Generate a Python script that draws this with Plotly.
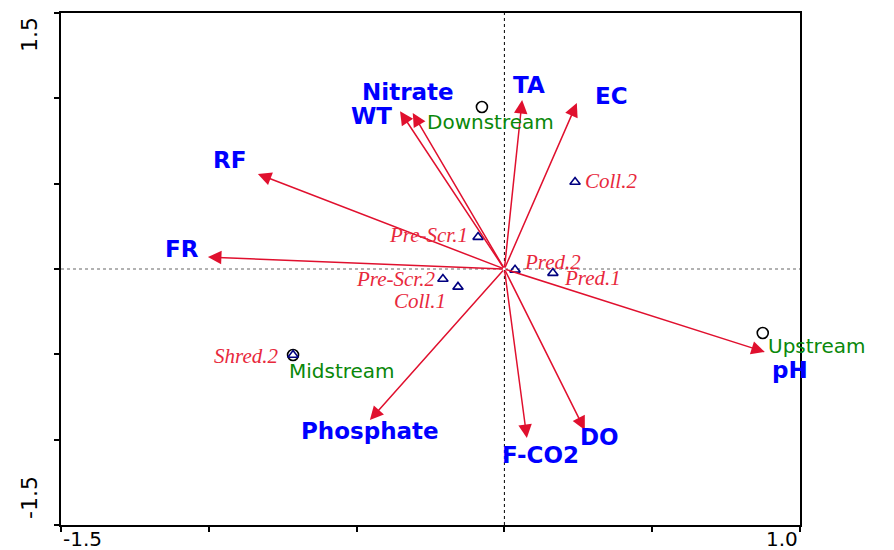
import plotly.graph_objects as go

# Environmental variables (biplot arrows from the origin)
env_names = ["RF", "FR", "WT", "Nitrate", "TA", "EC", "pH", "DO", "F-CO2", "Phosphate"]
env_x = [-0.834, -1.003, -0.353, -0.310, 0.060, 0.245, 0.881, 0.272, 0.076, -0.455]
env_y = [0.557, 0.070, 0.924, 0.914, 0.990, 0.972, -0.486, -0.943, -0.990, -0.885]

# Sampling sites
site_names = ["Downstream", "Midstream", "Upstream"]
site_x = [-0.076, -0.715, 0.874]
site_y = [0.949, -0.504, -0.375]

# Functional feeding groups
taxa_names = ["Coll.2", "Pre-Scr.1", "Pre-Scr.2", "Coll.1", "Pred.2", "Pred.1", "Shred.2"]
taxa_x = [0.239, -0.089, -0.208, -0.157, 0.036, 0.164, -0.715]
taxa_y = [0.510, 0.187, -0.059, -0.105, -0.005, -0.024, -0.504]

# Axis ticks
x_ticks = [-1.5, -1.0, -0.5, 0.0, 0.5, 1.0]
y_ticks = [-1.5, -1.0, -0.5, 0.0, 0.5, 1.0, 1.5]
x_range = [-1.5, 1.0]
y_range = [-1.5, 1.5]

# Label placement (pixel shifts from each point) and styling
env_label_shift = {
    "RF": (-28, 14), "FR": (-26, 8), "WT": (-29, -5), "Nitrate": (-5, 21),
    "TA": (7, 15), "EC": (35, 7), "pH": (25, -18), "DO": (15, -7),
    "F-CO2": (14, -17), "Phosphate": (0, -11),
}
site_label_shift = {"Downstream": (-57, -15), "Midstream": (-6, -16), "Upstream": (3, -13)}
taxa_label_shift = {
    "Coll.2": ("left", 8, 1), "Pre-Scr.1": ("right", -8, 2), "Pre-Scr.2": ("right", -6, 0),
    "Coll.1": ("right", -10, -14), "Pred.2": ("left", 7, 8), "Pred.1": ("left", 9, -5),
    "Shred.2": ("right", -13, -1),
}

ARROW_RED = "#E0102E"
LABEL_BLUE = "#0000FF"
SITE_GREEN = "#0A880A"
TAXA_RED = "#E8283C"
NAVY = "#000080"

fig = go.Figure()

fig.add_trace(go.Scatter(
    x=site_x, y=site_y, mode="markers",
    marker=dict(symbol="circle-open", size=11, color="black", line=dict(width=1.6)),
    hoverinfo="skip", showlegend=False,
))
fig.add_trace(go.Scatter(
    x=taxa_x, y=taxa_y, mode="markers",
    marker=dict(symbol="triangle-up-open", size=9, color=NAVY, line=dict(width=1.6)),
    hoverinfo="skip", showlegend=False,
))

annotations = []

# Arrows for the environmental variables
for name, ex, ey in zip(env_names, env_x, env_y):
    annotations.append(dict(
        x=ex, y=ey, ax=0, ay=0, xref="x", yref="y", axref="x", ayref="y",
        text="", showarrow=True, arrowhead=2, arrowsize=1.8, arrowwidth=1.5,
        arrowcolor=ARROW_RED, standoff=0,
    ))
    dx, dy = env_label_shift[name]
    annotations.append(dict(
        x=ex, y=ey, xref="x", yref="y", text=f"<b>{name}</b>", showarrow=False,
        xanchor="center", yanchor="middle", xshift=dx, yshift=dy,
        font=dict(family="DejaVu Sans", size=23, color=LABEL_BLUE),
    ))

for name, sx, sy in zip(site_names, site_x, site_y):
    dx, dy = site_label_shift[name]
    annotations.append(dict(
        x=sx, y=sy, xref="x", yref="y", text=name, showarrow=False,
        xanchor="left", yanchor="middle", xshift=dx, yshift=dy,
        font=dict(family="DejaVu Sans", size=20, color=SITE_GREEN),
    ))

for name, tx, ty in zip(taxa_names, taxa_x, taxa_y):
    anchor, dx, dy = taxa_label_shift[name]
    annotations.append(dict(
        x=tx, y=ty, xref="x", yref="y", text=f"<i>{name}</i>", showarrow=False,
        xanchor=anchor, yanchor="middle", xshift=dx, yshift=dy,
        font=dict(family="Liberation Serif", size=21, color=TAXA_RED),
    ))

# End-of-axis tick labels
tick_font = dict(family="DejaVu Sans", size=20, color="black")
annotations += [
    dict(x=x_ticks[0], y=0, xref="x", yref="paper", text=f"{x_ticks[0]:.1f}", showarrow=False,
         xanchor="left", yanchor="top", yshift=0, font=tick_font),
    dict(x=x_ticks[-1], y=0, xref="x", yref="paper", text=f"{x_ticks[-1]:.1f}", showarrow=False,
         xanchor="right", yanchor="top", yshift=0, font=tick_font),
    dict(x=0, y=y_ticks[-1], xref="paper", yref="y", text=f"{y_ticks[-1]:.1f}", showarrow=False,
         textangle=-90, xanchor="right", yanchor="top", xshift=-17, yshift=-2,
         font=dict(family="DejaVu Sans", size=22, color="black")),
    dict(x=0, y=y_ticks[0], xref="paper", yref="y", text=f"{y_ticks[0]:.1f}", showarrow=False,
         textangle=-90, xanchor="right", yanchor="bottom", xshift=-17, yshift=4,
         font=dict(family="DejaVu Sans", size=22, color="black")),
]

# Reference lines through the origin
shapes = [
    dict(type="line", xref="paper", yref="y", x0=0, x1=1, y0=0, y1=0,
         line=dict(color="#999999", width=1.5, dash="3px,3px"), layer="below"),
    dict(type="line", xref="x", yref="paper", x0=0, x1=0, y0=0, y1=1,
         line=dict(color="black", width=1, dash="dot"), layer="below"),
]

axis_common = dict(
    showgrid=False, zeroline=False, showline=True, mirror=True,
    linecolor="black", linewidth=2, ticks="outside", ticklen=5, tickwidth=2,
    tickcolor="black", showticklabels=False,
)

fig.update_layout(
    width=894, height=550,
    margin=dict(l=61, r=94, t=13, b=25),
    paper_bgcolor="white", plot_bgcolor="white",
    xaxis=dict(range=x_range, tickvals=x_ticks, **axis_common),
    yaxis=dict(range=y_range, tickvals=y_ticks, **axis_common),
    annotations=annotations, shapes=shapes,
    showlegend=False,
)

fig.write_html("out.html")
